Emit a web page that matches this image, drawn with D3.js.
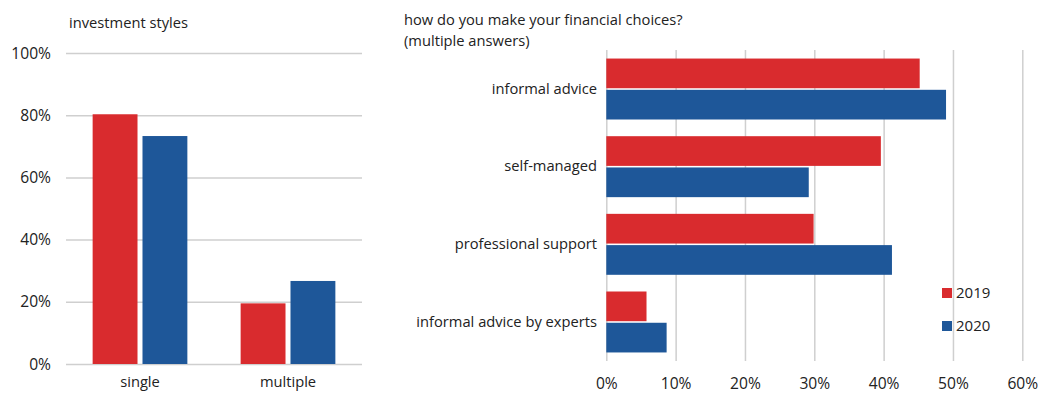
<!DOCTYPE html>
<html>
<head>
<meta charset="utf-8">
<script src="https://cdn.jsdelivr.net/npm/d3@7"></script>
<style>
  html, body { margin: 0; padding: 0; background: #fff; }
  svg { display: block; font-family: "Open Sans", "Noto Sans", sans-serif; }
</style>
</head>
<body>
<svg id="chart" width="1056" height="394"></svg>
<script>
const seriesNames = ["2019", "2020"];
const seriesColors = ["#D92B2E", "#1E5799"];

const styleTitle = "investment styles";
const styleCategories = ["single", "multiple"];
const styles2019 = [0.803, 0.195];
const styles2020 = [0.733, 0.267];
const styleTicks = [0, 0.2, 0.4, 0.6, 0.8, 1.0];

const choiceTitle = ["how do you make your financial choices?", "(multiple answers)"];
const choiceCategories = ["informal advice", "self-managed", "professional support", "informal advice by experts"];
const choices2019 = [0.452, 0.396, 0.299, 0.058];
const choices2020 = [0.490, 0.292, 0.412, 0.087];
const choiceTicks = [0, 0.1, 0.2, 0.3, 0.4, 0.5, 0.6];

const svg = d3.select("#chart");
const textColor = "#222";
const gridColor = "#cfcfcf";
const pct = d3.format(".0%");
const labelSize = 14.7;
const tickSize = 15.6;

// ---------- Left chart ----------
const L = svg.append("g");
const yL = d3.scaleLinear().domain([0, 1]).range([364, 53]);
const xL = d3.scaleBand().domain(styleCategories).range([66, 362]).paddingInner(0.36).paddingOuter(0.18);
const xLs = d3.scaleBand().domain(seriesNames).range([0, xL.bandwidth()]).paddingInner(0.1);

L.append("text").attr("x", 69).attr("y", 28).attr("font-size", labelSize).attr("fill", textColor).text(styleTitle);

const yAxisL = d3.axisLeft(yL).tickValues(styleTicks).tickFormat(pct).tickSize(-(362 - 66)).tickPadding(15);
const gyL = L.append("g").attr("transform", "translate(66,0)").call(yAxisL);
gyL.select(".domain").remove();
gyL.selectAll(".tick line").attr("stroke", gridColor).attr("stroke-width", 1.5);
gyL.selectAll(".tick text").attr("font-size", tickSize).attr("fill", textColor).attr("font-family", "'Open Sans', sans-serif");

const stylesData = styleCategories.map((c, i) => ({ cat: c, vals: [styles2019[i], styles2020[i]] }));
const gL = L.selectAll(".grp").data(stylesData).join("g").attr("transform", d => `translate(${xL(d.cat)},0)`);
gL.selectAll("rect").data(d => d.vals.map((v, j) => ({ v, s: seriesNames[j], j })))
  .join("rect")
  .attr("x", d => xLs(d.s))
  .attr("width", xLs.bandwidth())
  .attr("y", d => yL(d.v))
  .attr("height", d => yL(0) - yL(d.v))
  .attr("fill", d => seriesColors[d.j]);

const xAxisL = d3.axisBottom(xL).tickSize(0).tickPadding(0);
const gxL = L.append("g").attr("transform", "translate(0,373)").call(xAxisL);
gxL.select(".domain").remove();
gxL.selectAll(".tick text").attr("font-size", labelSize).attr("fill", textColor).attr("font-family", "'Open Sans', sans-serif").attr("dy", "0.95em");

// ---------- Right chart ----------
const R = svg.append("g");
const xR = d3.scaleLinear().domain([0, 0.6]).range([606.3, 1022.3]);
const yR = d3.scaleBand().domain(choiceCategories).range([50, 361]).paddingInner(0.215).paddingOuter(0.11);
const yRs = d3.scaleBand().domain(seriesNames).range([0, yR.bandwidth()]).paddingInner(0.05);

R.append("text").attr("font-size", labelSize).attr("fill", textColor)
  .selectAll("tspan").data(choiceTitle).join("tspan")
  .attr("x", 404).attr("y", (d, i) => 25 + i * 21).text(d => d);

const xAxisR = d3.axisBottom(xR).tickValues(choiceTicks).tickFormat(pct).tickSize(-(361 - 50)).tickPadding(17);
const gxR = R.append("g").attr("transform", "translate(0,361)").call(xAxisR);
gxR.select(".domain").remove();
gxR.selectAll(".tick line").attr("stroke", gridColor).attr("stroke-width", 1.5);
gxR.selectAll(".tick text").attr("font-size", tickSize).attr("fill", textColor).attr("font-family", "'Open Sans', sans-serif");

const choicesData = choiceCategories.map((c, i) => ({ cat: c, vals: [choices2019[i], choices2020[i]] }));
const gR = R.selectAll(".grpR").data(choicesData).join("g").attr("transform", d => `translate(0,${yR(d.cat)})`);
gR.selectAll("rect").data(d => d.vals.map((v, j) => ({ v, s: seriesNames[j], j })))
  .join("rect")
  .attr("x", xR(0))
  .attr("y", d => yRs(d.s))
  .attr("height", yRs.bandwidth())
  .attr("width", d => xR(d.v) - xR(0))
  .attr("fill", d => seriesColors[d.j]);

const yAxisR = d3.axisLeft(yR).tickSize(0).tickPadding(0);
const gyR = R.append("g").attr("transform", "translate(597,0)").call(yAxisR);
gyR.select(".domain").remove();
gyR.selectAll(".tick text").attr("font-size", labelSize).attr("fill", textColor).attr("font-family", "'Open Sans', sans-serif");

// Legend
const legend = R.append("g").attr("transform", "translate(942,288)");
const li = legend.selectAll("g").data(seriesNames).join("g").attr("transform", (d, i) => `translate(0,${i * 33})`);
li.append("rect").attr("width", 10).attr("height", 10).attr("fill", (d, i) => seriesColors[i]);
li.append("text").attr("x", 14).attr("y", 5).attr("dy", "0.35em").attr("font-size", 15).attr("fill", textColor).text(d => d);
</script>
</body>
</html>
